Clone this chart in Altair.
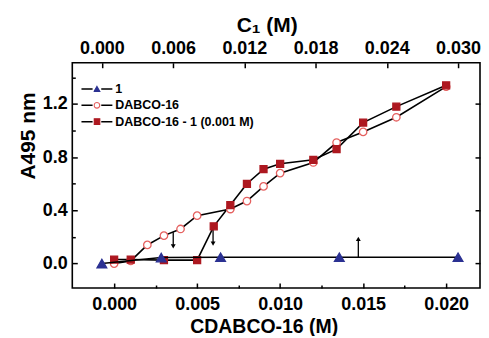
import altair as alt
import pandas as pd

# ---------------- data ----------------
series_names = ["1", "DABCO-16", "DABCO-16 - 1 (0.001 M)"]
sym_keys = ["s1", "s2", "s3"]

# series "1" is plotted against the top axis C1 (M)
one_x = [0.000, 0.005, 0.010, 0.020, 0.030]
one_y = [0.00, 0.045, 0.048, 0.048, 0.048]

# DABCO-16 (open circles) vs C_DABCO-16 (bottom axis)
dabco_x = [0.000, 0.001, 0.002, 0.003, 0.004, 0.005, 0.007, 0.008, 0.009,
           0.010, 0.012, 0.0134, 0.015, 0.017, 0.020]
dabco_y = [0.00, 0.02, 0.14, 0.21, 0.26, 0.36, 0.41, 0.47, 0.58,
           0.68, 0.76, 0.91, 0.99, 1.10, 1.33]

# DABCO-16 - 1 (0.001 M) (filled squares)
mix_x = [0.000, 0.001, 0.003, 0.005, 0.006, 0.007, 0.008, 0.009, 0.010,
         0.012, 0.0134, 0.015, 0.017, 0.020]
mix_y = [0.03, 0.03, 0.026, 0.026, 0.28, 0.44, 0.60, 0.71, 0.75,
         0.78, 0.86, 1.06, 1.18, 1.34]

# arrows (bottom-axis units)
arrow_x = [0.00356, 0.00596, 0.01471]
arrow_from = [0.235, 0.262, 0.05]
arrow_to = [0.13, 0.15, 0.185]
arrow_dir = ["down", "down", "up"]

bottom_ticks = [0.0, 0.0025, 0.005, 0.0075, 0.010, 0.0125, 0.015, 0.0175, 0.020]
top_ticks = [0.0, 0.006, 0.012, 0.018, 0.024, 0.030]
left_ticks = [0.0, 0.2, 0.4, 0.6, 0.8, 1.0, 1.2, 1.4]
right_ticks = [0.0, 0.4, 0.8, 1.2]

# ---------------- tables ----------------
df_top = pd.DataFrame({"x": one_x, "y": one_y,
                       "series": series_names[0], "sym": sym_keys[0]})
df_bot = pd.concat([
    pd.DataFrame({"x": dabco_x, "y": dabco_y, "series": series_names[1], "sym": sym_keys[1]}),
    pd.DataFrame({"x": mix_x, "y": mix_y, "series": series_names[2], "sym": sym_keys[2]}),
], ignore_index=True)
df_arrow = pd.DataFrame({"x": arrow_x, "y0": arrow_from, "y1": arrow_to, "dir": arrow_dir})

FONT = "Liberation Sans"
NAVY = "#2b3192"
RED = "#ad1820"
PINK = "#e5605f"

x_bot_scale = alt.Scale(domain=[-0.00252, 0.02204], nice=False, zero=False)
x_top_scale = alt.Scale(domain=[-0.00249, 0.03185], nice=False, zero=False)
y_scale = alt.Scale(domain=[-0.184, 1.51], nice=False, zero=False)

common_axis = dict(grid=False, domain=False, labelOverlap=False,
                   labelFlush=False, labelFont=FONT, labelFontWeight="bold",
                   labelFontSize=18, labelColor="black", titleFont=FONT,
                   titleFontWeight="bold", titleFontSize=21, titleColor="black",
                   tickColor="black", tickWidth=1.5)

bot_major = "abs(datum.value*200-round(datum.value*200))<0.001"
left_major = "abs(datum.value*2.5-round(datum.value*2.5))<0.001"

# negative tick sizes (given as expressions) draw the ticks inward
bottom_axis = alt.Axis(orient="bottom", values=bottom_ticks,
                       tickSize=alt.ExprRef(f"{bot_major} ? -5 : -3"),
                       labelExpr=f"{bot_major} ? format(datum.value, '.3f') : ''",
                       labelPadding=12.2, titlePadding=2, title="CDABCO-16 (M)", titleX=192,
                       **{**common_axis, "titleFontSize": 19.5})
top_axis = alt.Axis(orient="top", values=top_ticks, format=".3f",
                    tickSize=alt.ExprRef("-5"),
                    labelPadding=10.2, titlePadding=4, title="C₁ (M)", titleX=195,
                    **common_axis)
left_axis = alt.Axis(orient="left", values=left_ticks,
                     tickSize=alt.ExprRef(f"{left_major} ? -5 : -3"),
                     labelExpr=f"{left_major} ? format(datum.value, '.1f') : ''",
                     labelPadding=10, titlePadding=4, title="A495 nm", titleY=73,
                     **common_axis)
right_axis = alt.Axis(orient="right", values=right_ticks, labels=False, title=None,
                      tickSize=alt.ExprRef("-5"),
                      **{k: v for k, v in common_axis.items() if not k.startswith("title")})

line_legend = alt.Legend(orient="none", legendX=8.2, legendY=19.3, title=None, padding=0,
                         direction="vertical", columns=1, clipHeight=14, rowPadding=2.4,
                         symbolType="M-1,0H-0.28M0.28,0H1", symbolSize=961,
                         symbolStrokeWidth=1.5, symbolStrokeColor="black",
                         labelFont=FONT, labelFontWeight="bold", labelFontSize=12.5,
                         labelColor="black", labelOffset=2)
pt_legend = alt.Legend(orient="none", legendX=21.2, legendY=19.3, title=None, padding=0,
                       direction="vertical", columns=1, clipHeight=14, rowPadding=2.4,
                       symbolSize=32, symbolStrokeWidth=1.2,
                       labelOpacity=0, labelFontSize=1)

color_enc = alt.Color("series:N", scale=alt.Scale(domain=series_names,
                      range=["black", "black", "black"]), legend=line_legend)
shape_enc = alt.Shape("sym:N", scale=alt.Scale(domain=sym_keys,
                      range=["triangle-up", "circle", "square"]), legend=pt_legend)
fill_enc = alt.Fill("sym:N", scale=alt.Scale(domain=sym_keys,
                    range=[NAVY, "white", RED]), legend=pt_legend)
stroke_enc = alt.Stroke("sym:N", scale=alt.Scale(domain=sym_keys,
                        range=[NAVY, PINK, RED]), legend=pt_legend)

xb = alt.X("x:Q", scale=x_bot_scale, axis=bottom_axis)
xt = alt.X("x:Q", scale=x_top_scale, axis=top_axis)
yl = alt.Y("y:Q", scale=y_scale, axis=left_axis)
yr = alt.Y("y:Q", scale=y_scale, axis=right_axis)


def points(df, xenc, yenc, key, size):
    return alt.Chart(df).transform_filter(alt.datum.sym == key).mark_point(
        filled=True, size=size, strokeWidth=1.3, opacity=1
    ).encode(x=xenc, y=yenc, shape=shape_enc, fill=fill_enc, stroke=stroke_enc)


lines_b = alt.Chart(df_bot).mark_line(strokeWidth=1.6).encode(
    x=xb, y=yl, color=color_enc, detail="series:N")
arrow_rule = alt.Chart(df_arrow).mark_rule(color="black", strokeWidth=1.3).encode(
    x=alt.X("x:Q", scale=x_bot_scale, axis=bottom_axis),
    y=alt.Y("y0:Q", scale=y_scale, axis=left_axis), y2="y1:Q")
head_down = alt.Chart(df_arrow).transform_filter(alt.datum.dir == "down").mark_point(
    shape="triangle-down", filled=True, color="black", size=24, opacity=1).encode(
    x=alt.X("x:Q", scale=x_bot_scale, axis=bottom_axis),
    y=alt.Y("y1:Q", scale=y_scale, axis=left_axis))
head_up = alt.Chart(df_arrow).transform_filter(alt.datum.dir == "up").mark_point(
    shape="triangle-up", filled=True, color="black", size=24, opacity=1).encode(
    x=alt.X("x:Q", scale=x_bot_scale, axis=bottom_axis),
    y=alt.Y("y1:Q", scale=y_scale, axis=left_axis))

bottom_group = alt.layer(
    lines_b, arrow_rule, head_down, head_up,
    points(df_bot, xb, yl, "s2", 56),
    points(df_bot, xb, yl, "s3", 49),
)

lines_t = alt.Chart(df_top).mark_line(strokeWidth=1.6).encode(
    x=xt, y=yr, color=color_enc)
top_group = alt.layer(lines_t, points(df_top, xt, yr, "s1", 95))

chart = alt.layer(bottom_group, top_group).resolve_scale(
    x="independent", y="independent"
).properties(
    width=409, height=226,
    padding={"left": 8.5, "top": 5.4, "right": 0, "bottom": 0},
).configure_view(stroke="black", strokeWidth=1.6)

chart.save("out.html", embed_options={"renderer": "svg", "actions": False})
